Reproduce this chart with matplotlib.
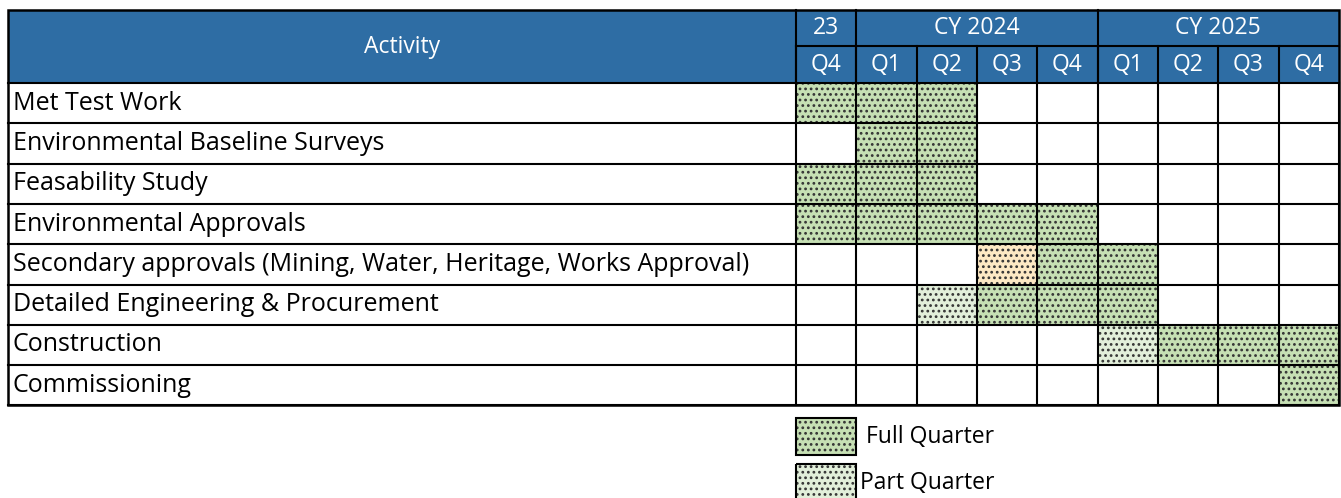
import matplotlib.pyplot as plt
from matplotlib.patches import Rectangle

plt.rcParams['font.family'] = ['Open Sans', 'DejaVu Sans']
plt.rcParams['hatch.linewidth'] = 1.2

# data
activities = ['Met Test Work', 'Environmental Baseline Surveys', 'Feasability Study',
              'Environmental Approvals',
              'Secondary approvals (Mining, Water, Heritage, Works Approval)',
              'Detailed Engineering & Procurement', 'Construction', 'Commissioning']
years = ['23', 'CY 2024', 'CY 2025']
year_span = [1, 4, 4]
quarters = ['Q4', 'Q1', 'Q2', 'Q3', 'Q4', 'Q1', 'Q2', 'Q3', 'Q4']
# 0 = empty, 1 = full quarter, 2 = part quarter, 3 = part quarter (amber)
status = [
    [1, 1, 1, 0, 0, 0, 0, 0, 0],
    [0, 1, 1, 0, 0, 0, 0, 0, 0],
    [1, 1, 1, 0, 0, 0, 0, 0, 0],
    [1, 1, 1, 1, 1, 0, 0, 0, 0],
    [0, 0, 0, 3, 1, 1, 0, 0, 0],
    [0, 0, 2, 1, 1, 1, 0, 0, 0],
    [0, 0, 0, 0, 0, 2, 1, 1, 1],
    [0, 0, 0, 0, 0, 0, 0, 0, 1],
]
legend_labels = ['Full Quarter', 'Part Quarter']

fills = {1: '#c6e0b4', 2: '#e2efda', 3: '#fde9c4'}
blue = '#2e6da4'
dots = '#333333'

fig = plt.figure(figsize=(13.41, 4.98), dpi=100)
ax = fig.add_axes([0, 0, 1, 1])
ax.set_xlim(0, 1341)
ax.set_ylim(498, 0)
ax.axis('off')

x0, xa, xr = 8, 796, 1339
cw = (xr - xa) / len(quarters)
ytop, ymid, yhead = 10, 46, 83
rh = 40.3

# header
ax.add_patch(Rectangle((x0, ytop), xr - x0, yhead - ytop, facecolor=blue, edgecolor='none'))
ax.text((x0 + xa) / 2, (ytop + yhead) / 2, 'Activity', color='white', fontsize=16.5,
        ha='center', va='center')
xs = xa
for y, n in zip(years, year_span):
    ax.text(xs + n * cw / 2, (ytop + ymid) / 2, y, color='white', fontsize=16.5,
            ha='center', va='center')
    ax.plot([xs, xs], [ytop, yhead], color='black', lw=1.5)
    xs += n * cw
for i, q in enumerate(quarters):
    ax.text(xa + (i + 0.5) * cw, (ymid + yhead) / 2, q, color='white', fontsize=16.5,
            ha='center', va='center')
    ax.plot([xa + i * cw] * 2, [ymid, yhead], color='black', lw=1.5)
ax.plot([xa, xr], [ymid, ymid], color='black', lw=1.5)

# body
for r, (act, row) in enumerate(zip(activities, status)):
    yt = yhead + r * rh
    ax.text(x0 + 5, yt + rh / 2, act, fontsize=18, ha='left', va='center', color='black')
    for c, s in enumerate(row):
        if s:
            ax.add_patch(Rectangle((xa + c * cw, yt), cw, rh, facecolor=fills[s],
                                   edgecolor=dots, hatch='...', lw=0))
ybot = yhead + len(activities) * rh
for r in range(len(activities) + 1):
    ax.plot([x0, xr], [yhead + r * rh] * 2, color='black', lw=1.5)
for c in range(len(quarters) + 1):
    ax.plot([xa + c * cw] * 2, [yhead, ybot], color='black', lw=1.5)
ax.add_patch(Rectangle((x0, ytop), xr - x0, ybot - ytop, fill=False, edgecolor='black', lw=1.8))

# legend
for k, (lab, code) in enumerate(zip(legend_labels, [1, 2])):
    ly = 418 + k * 46
    ax.add_patch(Rectangle((xa, ly), cw, 37, facecolor=fills[code], edgecolor=dots,
                           hatch='...', lw=0))
    ax.add_patch(Rectangle((xa, ly), cw, 37, fill=False, edgecolor='black', lw=1.5))
    ax.text(xa + cw + 10 - k * 6, ly + 19, lab, fontsize=16.5, ha='left', va='center')

fig.savefig('out.png', dpi=100)
